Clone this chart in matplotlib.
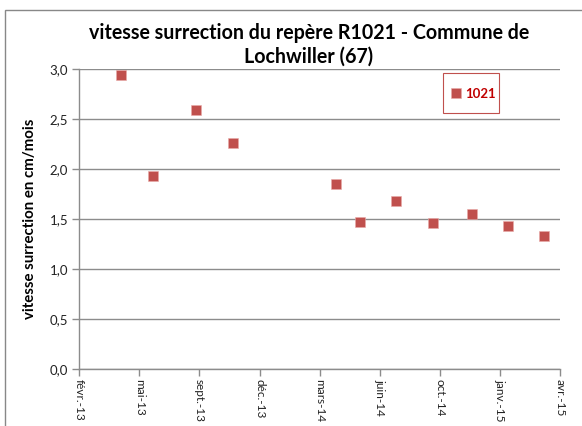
import matplotlib
matplotlib.use("Agg")
import matplotlib.pyplot as plt
import matplotlib.dates as mdates
from matplotlib.patches import Rectangle
import datetime as dt

# Data
dates = ["2013-04-24", "2013-06-16", "2013-08-27", "2013-10-27", "2014-04-17",
         "2014-05-27", "2014-07-26", "2014-09-25", "2014-11-29", "2015-01-28",
         "2015-03-29"]
values = [2.94, 1.93, 2.59, 2.26, 1.85, 1.47, 1.68, 1.46, 1.55, 1.43, 1.33]
series_name = "1021"
x_tick_labels = ["févr.-13", "mai-13", "sept.-13", "déc.-13", "mars-14",
                 "juin-14", "oct.-14", "janv.-15", "avr.-15"]
y_ticks = [0.0, 0.5, 1.0, 1.5, 2.0, 2.5, 3.0]
title = "vitesse surrection du repère R1021 - Commune de\nLochwiller (67)"
ylabel = "vitesse surrection en cm/mois"

W, H = 582, 426
fig = plt.figure(figsize=(W / 100, H / 100), dpi=100)
plt.rcParams['font.family'] = ['Lato', 'DejaVu Sans']

# chart border (extends off canvas on the right and bottom)
fig.patches.append(Rectangle((5 / W, -0.1), 1.2, 1 - 10 / H + 0.1,
                             transform=fig.transFigure, fill=False,
                             edgecolor="#888888", linewidth=1.0))

left, right, top, bottom = 79.3, 560, 69.3, 369.3
ax = fig.add_axes([left / W, 1 - bottom / H, (right - left) / W, (bottom - top) / H])

def px_to_ax(x, y):
    return ((x - left) / (right - left), (bottom - y) / (bottom - top))

xd = [mdates.date2num(dt.datetime.strptime(d, "%Y-%m-%d")) for d in dates]
ax.plot(xd, values, linestyle="none", marker="s", markersize=7.2,
        color="#C0504D", markeredgecolor="#E8A9A8", markeredgewidth=0.4,
        label=series_name, zorder=3)

start = mdates.date2num(dt.datetime(2013, 2, 14))
step = 100
ticks = [start + i * step for i in range(len(x_tick_labels))]
ax.set_xlim(ticks[0], ticks[-1])
ax.set_xticks(ticks)
ax.set_xticklabels(x_tick_labels, rotation=-90, fontsize=8.5, color="#222222")

ax.set_ylim(0, 3)
ax.set_yticks(y_ticks)
ax.set_yticklabels([f"{v:.1f}".replace(".", ",") for v in y_ticks], fontsize=9.5, color="#222222")

ax.grid(axis="y", color="#8C8C8C", linewidth=1.0)
ax.set_axisbelow(True)
for s in ["top", "right"]:
    ax.spines[s].set_visible(False)
for s in ["left", "bottom"]:
    ax.spines[s].set_color("#8C8C8C")
    ax.spines[s].set_linewidth(1.0)
ax.tick_params(axis="both", direction="out", length=5, color="#8C8C8C", width=1.0)
ax.tick_params(axis="y", pad=3)
ax.tick_params(axis="x", pad=2)

ax.set_ylabel(ylabel, fontsize=10.8, fontweight="bold")
ax.yaxis.set_label_coords(-(left - 30) / (right - left), 0.5)
ax.yaxis.label.set_va("center")

fig.text(309 / W, 1 - 45 / H, title, ha="center", va="center",
         fontsize=14.1, fontweight="bold", linespacing=1.25)

# legend box
bx0, by0 = px_to_ax(443, 113)
bx1, by1 = px_to_ax(499, 72.7)
ax.add_patch(Rectangle((bx0, by0), bx1 - bx0, by1 - by0, transform=ax.transAxes,
                       fill=True, facecolor="white", edgecolor="#C0504D",
                       linewidth=0.8, zorder=4, clip_on=False))
leg = ax.legend(loc="center left", bbox_to_anchor=px_to_ax(451, 94),
                frameon=False, handlelength=0.8, handletextpad=0.3,
                borderpad=0, borderaxespad=0, prop={"weight": "bold", "size": 9.5})
leg.set_zorder(5)
for t in leg.get_texts():
    t.set_color("#C00000")

fig.savefig("out.png", dpi=100)
